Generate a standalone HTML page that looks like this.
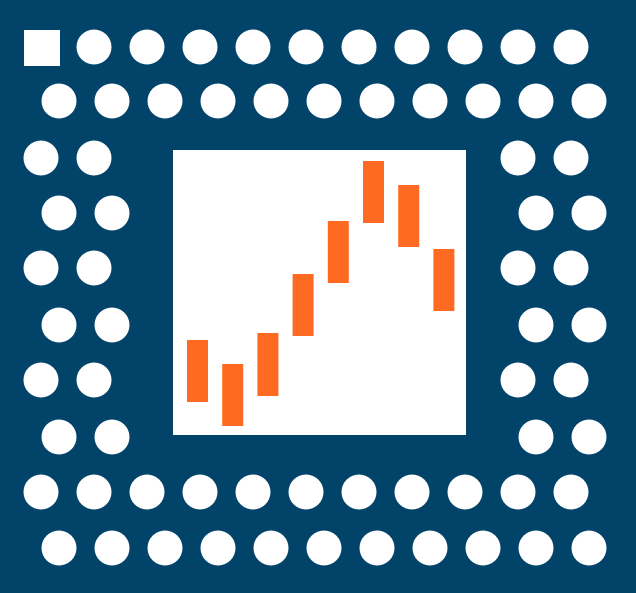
<!DOCTYPE html>
<html><head><meta charset="utf-8"><style>
html,body{margin:0;padding:0;background:#02436a;}
svg{display:block}
</style></head><body>
<svg id="c" width="636" height="593" viewBox="0 0 636 593" xmlns="http://www.w3.org/2000/svg">
<rect x="0" y="0" width="636" height="593" fill="#02436a"/>
<rect x="24" y="30" width="36" height="36" fill="#fff"/>
<rect x="173" y="150" width="293" height="285" fill="#fff"/>
<g id="dots"></g>
<g id="bars"></g>
</svg>
<script>
const categories = ["c1","c2","c3","c4","c5","c6","c7","c8"];
const lows = [33, 9, 39, 99, 152, 212, 188, 124];
const highs = [95, 71, 102, 161, 214, 274, 250, 186];

const NS = "http://www.w3.org/2000/svg";
function xScale(i){ return 187 + i * 35.2; }
function yScale(v){ return 435 - v; }
const bw = 21;

const bars = document.getElementById('bars');
categories.forEach((c, i) => {
  const r = document.createElementNS(NS, 'rect');
  r.setAttribute('x', xScale(i));
  r.setAttribute('y', yScale(highs[i]));
  r.setAttribute('width', bw);
  r.setAttribute('height', yScale(lows[i]) - yScale(highs[i]));
  r.setAttribute('fill', '#ff6a22');
  
  
  bars.appendChild(r);
});

const dots = document.getElementById('dots');
const rowY = [47, 101, 158, 213, 268, 325, 380, 437, 492, 548];
function addDot(x, y){
  const ci = document.createElementNS(NS, 'circle');
  ci.setAttribute('cx', x); ci.setAttribute('cy', y); ci.setAttribute('r', 17.5);
  ci.setAttribute('fill', '#fff');
  
  
  dots.appendChild(ci);
}
rowY.forEach((y, r) => {
  const off = (r % 2 === 0) ? 41 : 59;
  const full = (r < 2 || r > 7);
  for (let k = 0; k < 11; k++) {
    if (r === 0 && k === 0) continue;
    if (!full && k > 1 && k < 9) continue;
    addDot(off + k * 53, y);
  }
});
</script>
</body></html>
